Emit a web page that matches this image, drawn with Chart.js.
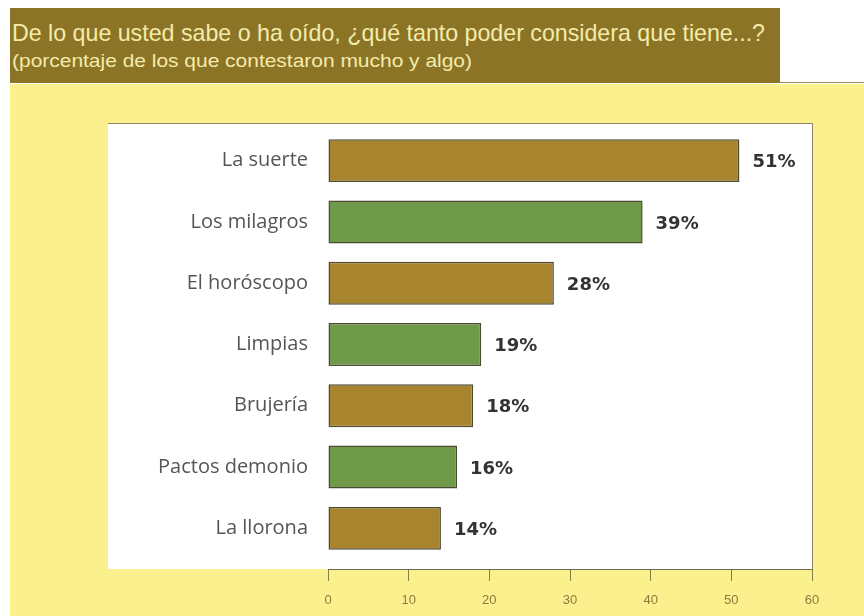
<!DOCTYPE html>
<html>
<head>
<meta charset="utf-8">
<script src="https://cdn.jsdelivr.net/npm/chart.js@4"></script>
<style>
  html, body { margin: 0; padding: 0; width: 864px; height: 616px; background: #fff; overflow: hidden; }
  #band { position: absolute; left: 10px; top: 8px; width: 770px; height: 75px; background: #8b7426; }
  #rule { position: absolute; left: 780px; top: 82px; width: 84px; height: 1px; background: #9a8a55; }
  #paper { position: absolute; left: 10px; top: 84px; width: 854px; height: 532px; background: #faf08e; }
  .t { position: absolute; left: 12px; white-space: nowrap; color: #f4ebab; font-family: "Liberation Sans Narrow", "Liberation Sans", Arial, sans-serif; transform-origin: 0 0; }
  #t1 { top: 19px; font-size: 24px; }
  #t2 { top: 50px; font-size: 19px; }
  canvas { position: absolute; left: 0; top: 0; }
</style>
</head>
<body>
<div id="band"></div>
<div id="rule"></div>
<div id="paper"></div>
<div class="t" id="t1">De lo que usted sabe o ha oído, ¿qué tanto poder considera que tiene...?</div>
<div class="t" id="t2">(porcentaje de los que contestaron mucho y algo)</div>
<canvas id="chart" width="864" height="616"></canvas>
<script>
const categories = ["La suerte", "Los milagros", "El horóscopo", "Limpias", "Brujería", "Pactos demonio", "La llorona"];
const values = [51, 39, 28, 19, 18, 16, 14];
const barColors = ["#a8842e", "#6f9a4a", "#a8842e", "#6f9a4a", "#a8842e", "#6f9a4a", "#a8842e"];
const xTicks = [0, 10, 20, 30, 40, 50, 60];

// squeeze the heading lines to the widths seen in the scan
function fitWidth(id, target) {
  const el = document.getElementById(id);
  const w = el.getBoundingClientRect().width;
  el.style.transform = `scaleX(${target / w})`;
}
fitWidth("t1", 753);
fitWidth("t2", 460);

// white plotting panel behind the bars
const panel = {
  id: "panel",
  beforeDraw(chart) {
    const { ctx, chartArea } = chart;
    ctx.save();
    ctx.fillStyle = "#ffffff";
    ctx.fillRect(108, chartArea.top, chartArea.right - 108, chartArea.bottom - chartArea.top);
    ctx.strokeStyle = "#8f8462";
    ctx.lineWidth = 1;
    ctx.beginPath();
    ctx.moveTo(108, chartArea.top + 0.5);
    ctx.lineTo(chartArea.right + 0.5, chartArea.top + 0.5);
    ctx.lineTo(chartArea.right + 0.5, chartArea.bottom);
    ctx.stroke();
    ctx.restore();
  },
  // bars sit a little inside the panel: pull the category band in
  afterLayout(chart) {
    const y = chart.scales.y;
    y.top += 7;
    y.bottom -= 10;
    y.height = y.bottom - y.top;
    y.configure();
  },
};

const valueLabels = {
  id: "valueLabels",
  afterDatasetsDraw(chart) {
    const { ctx } = chart;
    const meta = chart.getDatasetMeta(0);
    ctx.save();
    ctx.font = "bold 18px 'DejaVu Sans', sans-serif";
    ctx.fillStyle = "#333333";
    ctx.textAlign = "left";
    ctx.textBaseline = "middle";
    meta.data.forEach((bar, i) => {
      ctx.fillText(`${values[i]}%`, bar.x + 13, bar.y + 2);
    });
    ctx.restore();
  },
};

new Chart(document.getElementById("chart"), {
  type: "bar",
  data: {
    labels: categories,
    datasets: [
      {
        data: values,
        backgroundColor: barColors,
        borderColor: "#4d4a32",
        borderWidth: 1.5,
        borderSkipped: false,
        barPercentage: 0.7,
        categoryPercentage: 1,
      },
    ],
  },
  options: {
    indexAxis: "y",
    responsive: false,
    animation: false,
    layout: { padding: { top: 123, right: 52, bottom: 0, left: 0 } },
    plugins: {
      legend: { display: false },
      tooltip: { enabled: false },
    },
    scales: {
      x: {
        min: 0,
        max: 60,
        afterBuildTicks: (s) => { s.ticks = xTicks.map((v) => ({ value: v })); },
        grid: { drawOnChartArea: false, tickLength: 12, color: "#8a7d45", lineWidth: 1 },
        border: { color: "#6e6a55", width: 1 },
        ticks: {
          color: "#8c7c3c",
          padding: 12,
          font: { family: "'Liberation Sans Narrow', 'Liberation Sans', sans-serif", size: 13 },
        },
        afterFit: (s) => { s.height = 47; },
      },
      y: {
        grid: { display: false },
        border: { display: false },
        ticks: {
          color: "#555555",
          padding: 12,
          font: { family: "'Open Sans', sans-serif", size: 20 },
        },
        afterFit: (s) => { s.width = 328; },
      },
    },
  },
  plugins: [panel, valueLabels],
});
</script>
</body>
</html>
